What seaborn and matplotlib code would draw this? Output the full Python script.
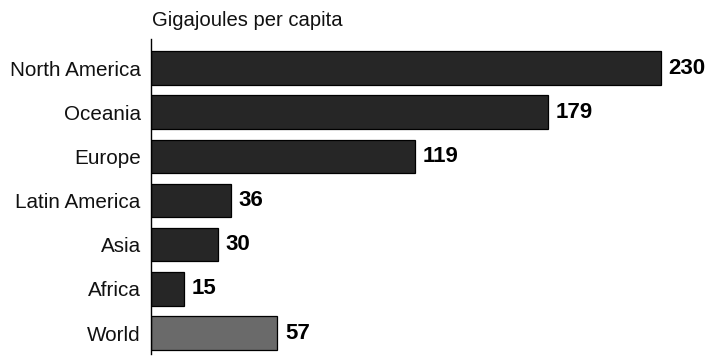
import matplotlib
matplotlib.use("Agg")
import matplotlib.pyplot as plt
import seaborn as sns
import pandas as pd

regions = ["North America", "Oceania", "Europe", "Latin America", "Asia", "Africa", "World"]
energy_gj = [230, 179, 119, 36, 30, 15, 57]
bar_colors = ["#262626", "#262626", "#262626", "#262626", "#262626", "#262626", "#6a6a6a"]

sns.set_theme(style="white")
plt.rcParams["font.family"] = ["Liberation Sans", "DejaVu Sans"]

df = pd.DataFrame({"region": regions, "gj": energy_gj})

fig = plt.figure(figsize=(7.11, 3.56), dpi=100)
ax = fig.add_axes([151 / 711, 2 / 356, 1 - 151 / 711, 315 / 356])

sns.barplot(data=df, y="region", x="gj", hue="region", palette=bar_colors,
            order=regions, hue_order=regions, legend=False, width=0.76,
            edgecolor="black", linewidth=0.9, saturation=1, ax=ax)

ax.set_xlim(0, 560 / 2.217)
ax.set_ylim(6.475, -0.657)
for s in ["top", "right", "bottom"]:
    ax.spines[s].set_visible(False)
ax.spines["left"].set_color("black")
ax.spines["left"].set_linewidth(1.0)
ax.set_xticks([])
ax.tick_params(axis="y", length=0, pad=7.5, labelsize=14.9, labelcolor="#111111")
ax.set_xlabel("")
ax.set_ylabel("")

for i, v in enumerate(energy_gj):
    ax.annotate(f"{v}", xy=(v, i), xytext=(5.5, 0), textcoords="offset points",
                ha="left", va="center", fontsize=16, fontweight="bold", color="black")

fig.text(152 / 711, 1 - 26 / 356, "Gigajoules per capita", ha="left", va="baseline",
         fontsize=14.6, color="#111111")

fig.savefig("out.png", dpi=100)
